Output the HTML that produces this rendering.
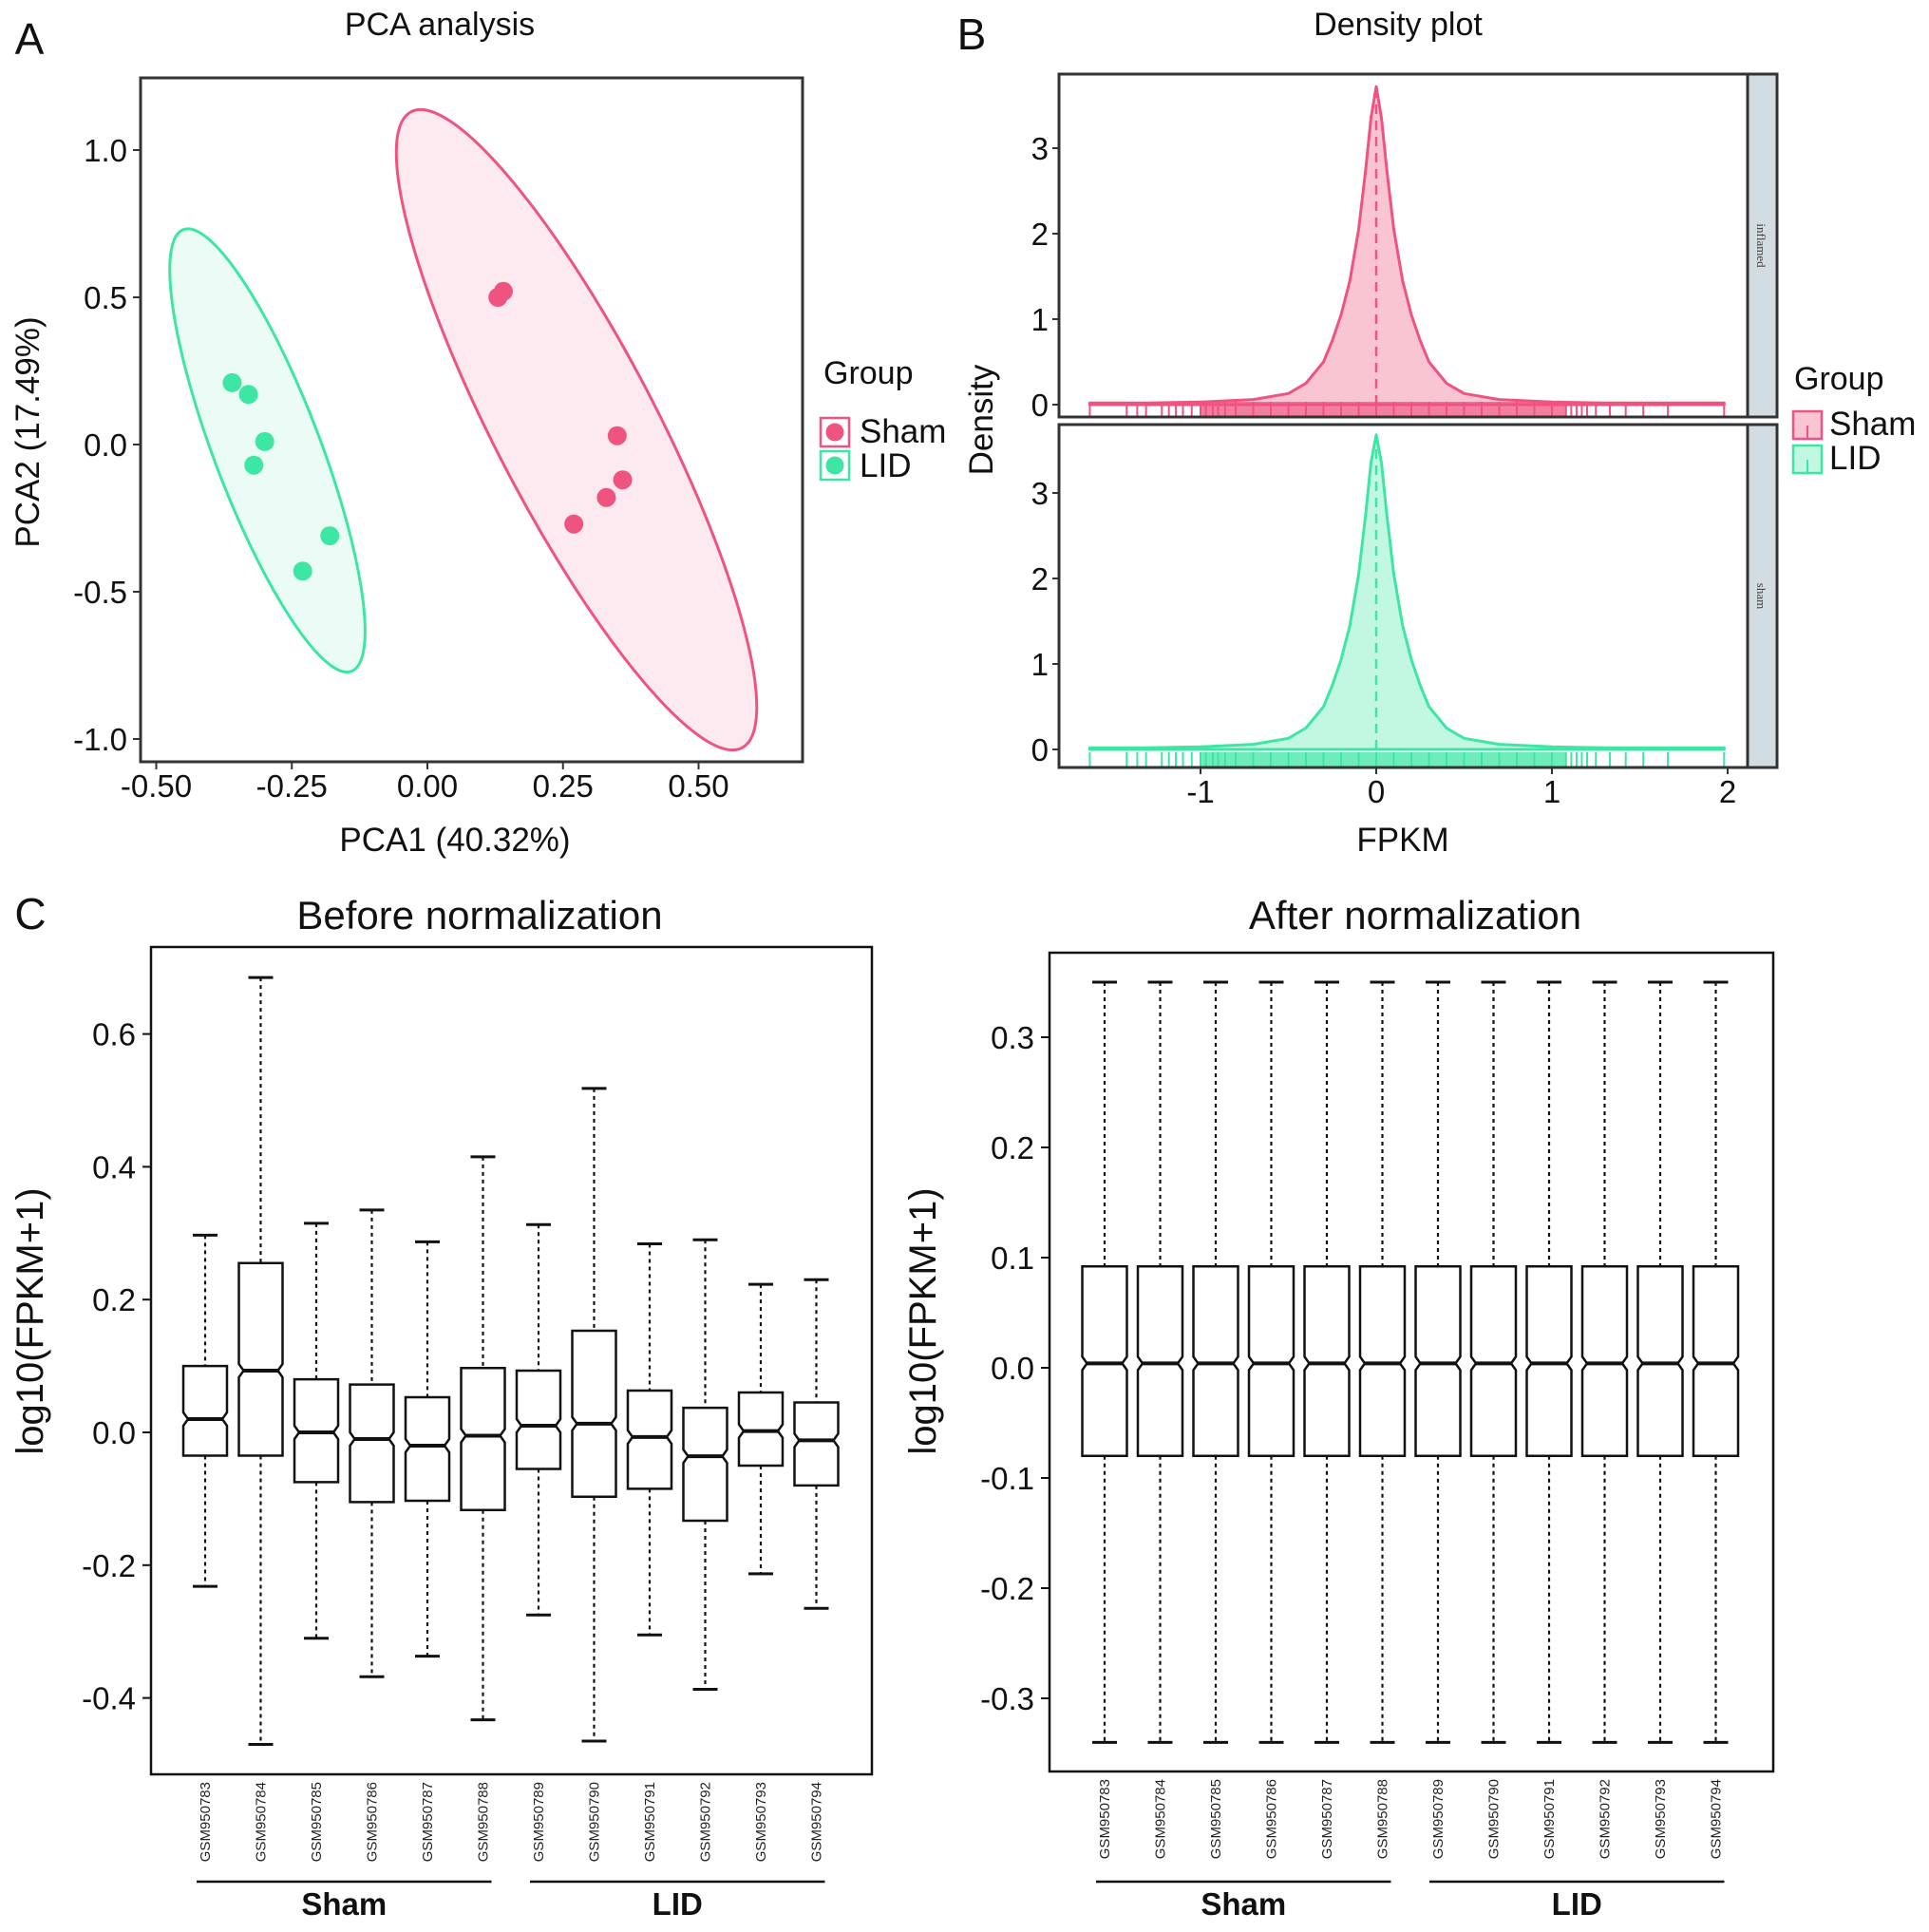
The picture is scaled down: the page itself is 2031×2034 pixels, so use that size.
<!DOCTYPE html>
<html><head><meta charset="utf-8">
<style>
html,body{margin:0;padding:0;background:#fff;}
svg{display:block;font-family:"Liberation Sans",Arial,sans-serif;}
</style></head>
<body>
<svg id="fig" width="2031" height="2034" viewBox="0 0 2031 2034" xmlns="http://www.w3.org/2000/svg"></svg>
<script>
// ---------- Panel A data ----------
const pcaShamX = [0.13, 0.14, 0.35, 0.36, 0.33, 0.27];
const pcaShamY = [0.50, 0.52, 0.03, -0.12, -0.18, -0.27];
const pcaLidX = [-0.36, -0.33, -0.30, -0.32, -0.18, -0.23];
const pcaLidY = [0.21, 0.17, 0.01, -0.07, -0.31, -0.43];
const pcaXTicks = [-0.5, -0.25, 0, 0.25, 0.5];
const pcaXTickLabels = ["-0.50", "-0.25", "0.00", "0.25", "0.50"];
const pcaYTicks = [1.0, 0.5, 0.0, -0.5, -1.0];
const pcaYTickLabels = ["1.0", "0.5", "0.0", "-0.5", "-1.0"];
const ellSham = [-0.03, 1.13, 0.58, -1.03];
const ellLid = [-0.45, 0.73, -0.14, -0.77];
// ---------- Panel B data ----------
const densX = [-1.63, -1.3, -1.0, -0.7, -0.5, -0.4, -0.3, -0.25, -0.2, -0.15, -0.1, -0.06, -0.03, 0, 0.03, 0.06, 0.1, 0.15, 0.2, 0.25, 0.3, 0.4, 0.5, 0.7, 1.0, 1.3, 1.65, 1.98];
const densSham = [0.02, 0.02, 0.03, 0.06, 0.13, 0.25, 0.5, 0.75, 1.05, 1.45, 2.05, 2.75, 3.35, 3.72, 3.35, 2.75, 2.05, 1.45, 1.05, 0.75, 0.5, 0.25, 0.13, 0.06, 0.03, 0.02, 0.02, 0.02];
const densLid = [0.02, 0.02, 0.03, 0.06, 0.13, 0.25, 0.5, 0.75, 1.05, 1.45, 2.05, 2.75, 3.35, 3.68, 3.35, 2.75, 2.05, 1.45, 1.05, 0.75, 0.5, 0.25, 0.13, 0.06, 0.03, 0.02, 0.02, 0.02];
const rugX = [-1.63,-1.42,-1.36,-1.31,-1.22,-1.18,-1.14,-1.1,-1.05,-1.0,-0.97,-0.93,-0.9,-0.86,-0.8,-0.7,-0.6,-0.5,-0.4,-0.3,-0.2,-0.1,0,0.1,0.2,0.3,0.4,0.5,0.6,0.7,0.8,0.9,1.0,1.08,1.11,1.14,1.17,1.2,1.25,1.33,1.42,1.52,1.66,1.98];
const densXTicks = [-1, 0, 1, 2];
const densYTicks = [0, 1, 2, 3];
// ---------- Panel C data ----------
const samples = ["GSM950783","GSM950784","GSM950785","GSM950786","GSM950787","GSM950788","GSM950789","GSM950790","GSM950791","GSM950792","GSM950793","GSM950794"];
const beforeHi = [0.297, 0.685, 0.315, 0.335, 0.287, 0.415, 0.313, 0.518, 0.284, 0.29, 0.223, 0.23];
const beforeQ3 = [0.10, 0.255, 0.08, 0.072, 0.053, 0.097, 0.093, 0.153, 0.063, 0.037, 0.06, 0.045];
const beforeMed = [0.02, 0.093, 0.0, -0.01, -0.02, -0.005, 0.01, 0.013, -0.007, -0.036, 0.002, -0.012];
const beforeQ1 = [-0.035, -0.035, -0.075, -0.105, -0.103, -0.117, -0.055, -0.097, -0.085, -0.133, -0.05, -0.08];
const beforeLo = [-0.232, -0.47, -0.31, -0.368, -0.337, -0.433, -0.275, -0.465, -0.305, -0.387, -0.213, -0.265];
const afterHi = [0.35,0.35,0.35,0.35,0.35,0.35,0.35,0.35,0.35,0.35,0.35,0.35];
const afterQ3 = [0.092,0.092,0.092,0.092,0.092,0.092,0.092,0.092,0.092,0.092,0.092,0.092];
const afterMed = [0.004,0.004,0.004,0.004,0.004,0.004,0.004,0.004,0.004,0.004,0.004,0.004];
const afterQ1 = [-0.08,-0.08,-0.08,-0.08,-0.08,-0.08,-0.08,-0.08,-0.08,-0.08,-0.08,-0.08];
const afterLo = [-0.34,-0.34,-0.34,-0.34,-0.34,-0.34,-0.34,-0.34,-0.34,-0.34,-0.34,-0.34];
const beforeYTicks = [0.6, 0.4, 0.2, 0.0, -0.2, -0.4];
const beforeYTickLabels = ["0.6", "0.4", "0.2", "0.0", "-0.2", "-0.4"];
const afterYTicks = [0.3, 0.2, 0.1, 0.0, -0.1, -0.2, -0.3];
const afterYTickLabels = ["0.3", "0.2", "0.1", "0.0", "-0.1", "-0.2", "-0.3"];

const NS = "http://www.w3.org/2000/svg";
const svg = document.getElementById("fig");
function el(tag, attrs, parent, txt) {
  const e = document.createElementNS(NS, tag);
  for (const k in attrs) e.setAttribute(k, attrs[k]);
  if (txt !== undefined) e.textContent = txt;
  (parent || svg).appendChild(e);
  return e;
}
function label(x, y, size, anchor, str, name, parent, extra) {
  const a = {x: x, y: y, "font-size": size, "text-anchor": anchor, fill: "#111"};
  if (extra) for (const k in extra) a[k] = extra[k];
  const t = el("text", a, parent, str);
  
  
  return t;
}
const PINK = "#EF5380", GREEN = "#3EE6A4";

// ========== Panel A ==========
const gA = el("g", {});


const ax = v => 450 + v * 571;
const ay = v => 468 - v * 310;
label(31, 57, 46, "middle", "A", "panel-label-a", gA);
label(463, 37, 34, "middle", "PCA analysis", "pca-title", gA);
function drawEllipse(e, col, fill, name) {
  const x1 = ax(e[0]), y1 = ay(e[1]), x2 = ax(e[2]), y2 = ay(e[3]);
  const cx = (x1 + x2) / 2, cy = (y1 + y2) / 2;
  const len = Math.hypot(x2 - x1, y2 - y1) / 2;
  const ang = Math.atan2(y2 - y1, x2 - x1) * 180 / Math.PI;
  const minor = len * 0.225;
  const p = el("ellipse", {cx: cx, cy: cy, rx: len, ry: minor, transform: "rotate(" + ang + " " + cx + " " + cy + ")", fill: fill, stroke: col, "stroke-width": 3}, gA);
  
  
}
drawEllipse(ellSham, PINK, "rgba(239,83,128,0.12)", "sham-ellipse");
drawEllipse(ellLid, GREEN, "rgba(62,230,164,0.10)", "lid-ellipse");
pcaShamX.forEach((v, i) => {
  const c = el("circle", {cx: ax(v), cy: ay(pcaShamY[i]), r: 10, fill: PINK}, gA);
  
  
});
pcaLidX.forEach((v, i) => {
  const c = el("circle", {cx: ax(v), cy: ay(pcaLidY[i]), r: 10, fill: GREEN}, gA);
  
  
});
const frA = el("rect", {x: 148, y: 82, width: 697, height: 720, fill: "none", stroke: "#333", "stroke-width": 3}, gA);


pcaXTicks.forEach((v, i) => {
  el("line", {x1: ax(v), x2: ax(v), y1: 802, y2: 810, stroke: "#333", "stroke-width": 2}, gA);
  label(ax(v), 839, 33, "middle", pcaXTickLabels[i], "pca-x-tick-label", gA);
});
pcaYTicks.forEach((v, i) => {
  el("line", {x1: 140, x2: 148, y1: ay(v), y2: ay(v), stroke: "#333", "stroke-width": 2}, gA);
  label(134, ay(v) + 12, 33, "end", pcaYTickLabels[i], "pca-y-tick-label", gA);
});
label(479, 896, 35, "middle", "PCA1 (40.32%)", "pca-x-axis-title", gA);
label(0, 0, 35, "middle", "PCA2 (17.49%)", "pca-y-axis-title", gA, {transform: "translate(41,455) rotate(-90)"});
label(867, 404, 34, "start", "Group", "pca-legend-title", gA);
[["Sham", PINK, 440, 466], ["LID", GREEN, 475, 502]].forEach(d => {
  const r = el("rect", {x: 864, y: d[2], width: 30, height: 30, fill: "#fff", stroke: d[1], "stroke-width": 2.5}, gA);
  
  
  el("circle", {cx: 879, cy: d[2] + 15, r: 9.5, fill: d[1]}, gA);
  label(905, d[3], 35, "start", d[0], "pca-legend-label", gA);
});

// ========== Panel B ==========
const gB = el("g", {});


label(1023, 52, 46, "middle", "B", "panel-label-b", gB);
label(1472, 37, 34, "middle", "Density plot", "density-title", gB);
const bx = v => 1449 + v * 185;
const facets = [
  {top: 78, bot: 439, y: v => 426 - v * 90, vals: densSham, col: PINK, fill: "rgba(245,150,175,0.55)", strip: "inflamed", name: "sham"},
  {top: 447, bot: 808, y: v => 789 - v * 90, vals: densLid, col: GREEN, fill: "rgba(120,240,190,0.45)", strip: "sham", name: "lid"}
];
facets.forEach(f => {
  let d = "M" + bx(densX[0]) + "," + f.y(0);
  densX.forEach((x, i) => { d += " L" + bx(x) + "," + f.y(f.vals[i]); });
  d += " L" + bx(densX[densX.length - 1]) + "," + f.y(0) + " Z";
  const p = el("path", {d: d, fill: f.fill, stroke: f.col, "stroke-width": 3, "stroke-linejoin": "round"}, gB);
  
  
  const peak = Math.max.apply(null, f.vals);
  const m = el("line", {x1: bx(0), x2: bx(0), y1: f.y(0), y2: f.y(peak), stroke: f.col, "stroke-width": 2.5, "stroke-dasharray": "10,7"}, gB);
  
  
  rugX.forEach(x => {
    const r = el("line", {x1: bx(x), x2: bx(x), y1: f.bot - 16, y2: f.bot, stroke: f.col, "stroke-width": 2}, gB);
    
    
  });
  el("rect", {x: bx(-1.0), y: f.bot - 16, width: bx(1.08) - bx(-1.0), height: 16, fill: f.col, opacity: 0.75}, gB);
  const st = el("rect", {x: 1840, y: f.top, width: 31, height: f.bot - f.top, fill: "#D3DCE0"}, gB);
  
  
  el("line", {x1: 1840, x2: 1840, y1: f.top, y2: f.bot, stroke: "#333", "stroke-width": 3}, gB);
  const cy = (f.top + f.bot) / 2;
  label(0, 0, 13, "middle", f.strip, "facet-strip-label", gB, {transform: "translate(1850," + cy + ") rotate(90)", "font-family": "Liberation Serif, serif", fill: "#444"});
  const fr = el("rect", {x: 1115, y: f.top, width: 756, height: f.bot - f.top, fill: "none", stroke: "#333", "stroke-width": 3}, gB);
  
  
  densYTicks.forEach(v => {
    el("line", {x1: 1108, x2: 1115, y1: f.y(v), y2: f.y(v), stroke: "#333", "stroke-width": 2}, gB);
    label(1104, f.y(v) + 12, 33, "end", String(v), "density-y-tick-label", gB);
  });
});
densXTicks.forEach(v => {
  el("line", {x1: bx(v), x2: bx(v), y1: 808, y2: 815, stroke: "#333", "stroke-width": 2}, gB);
  label(bx(v), 845, 33, "middle", String(v), "density-x-tick-label", gB);
});
label(1477, 896, 35, "middle", "FPKM", "density-x-axis-title", gB);
label(0, 0, 35, "middle", "Density", "density-y-axis-title", gB, {transform: "translate(1045,442) rotate(-90)"});
label(1889, 410, 34, "start", "Group", "density-legend-title", gB);
[["Sham", PINK, "rgba(245,150,175,0.55)", 433, 458], ["LID", GREEN, "rgba(120,240,190,0.45)", 469, 494]].forEach(d => {
  const r = el("rect", {x: 1888, y: d[3], width: 30, height: 29, fill: d[2], stroke: d[1], "stroke-width": 2.5}, gB);
  
  
  el("line", {x1: 1903, x2: 1903, y1: d[3] + 15, y2: d[3] + 29, stroke: d[1], "stroke-width": 2}, gB);
  label(1926, d[4], 35, "start", d[0], "density-legend-label", gB);
});

// ========== Panel C ==========
function boxPanel(cfg) {
  const g = el("g", {});
  
  
  const y = v => cfg.zero - v * cfg.scale;
  label(cfg.titleX, 978, 42, "middle", cfg.title, cfg.name + "-title", g);
  samples.forEach((s, i) => {
    const cx = cfg.x0 + i * cfg.step, hw = cfg.w / 2, L = cx - hw, R = cx + hw;
    const yq3 = y(cfg.q3[i]), yq1 = y(cfg.q1[i]), ym = y(cfg.med[i]), n = 7, ins = 5;
    const w1 = el("line", {x1: cx, x2: cx, y1: y(cfg.hi[i]), y2: yq3, stroke: "#111", "stroke-width": 2.2, "stroke-dasharray": "4,4"}, g);
    
    
    const w2 = el("line", {x1: cx, x2: cx, y1: yq1, y2: y(cfg.lo[i]), stroke: "#111", "stroke-width": 2.2, "stroke-dasharray": "4,4"}, g);
    
    
    const c1 = el("line", {x1: cx - 13, x2: cx + 13, y1: y(cfg.hi[i]), y2: y(cfg.hi[i]), stroke: "#111", "stroke-width": 3}, g);
    
    
    const c2 = el("line", {x1: cx - 13, x2: cx + 13, y1: y(cfg.lo[i]), y2: y(cfg.lo[i]), stroke: "#111", "stroke-width": 3}, g);
    
    
    const pts = [[L, yq3], [R, yq3], [R, ym - n], [R - ins, ym], [R, ym + n], [R, yq1], [L, yq1], [L, ym + n], [L + ins, ym], [L, ym - n]];
    const b = el("polygon", {points: pts.map(p => p.join(",")).join(" "), fill: "#fff", stroke: "#111", "stroke-width": 2.5}, g);
    
    
    const md = el("line", {x1: L + ins, x2: R - ins, y1: ym, y2: ym, stroke: "#111", "stroke-width": 4}, g);
    
    
    label(0, 0, 15, "end", s, "sample-label", g, {transform: "translate(" + (cx + 5) + "," + (cfg.bot + 8) + ") rotate(-90)", fill: "#222"});
  });
  const fr = el("rect", {x: cfg.left, y: cfg.top, width: cfg.right - cfg.left, height: cfg.bot - cfg.top, fill: "none", stroke: "#111", "stroke-width": 2.5}, g);
  
  
  cfg.ticks.forEach((v, i) => {
    el("line", {x1: cfg.left - 9, x2: cfg.left, y1: y(v), y2: y(v), stroke: "#111", "stroke-width": 2}, g);
    label(cfg.left - 16, y(v) + 12, 33, "end", cfg.tickLabels[i], "y-tick-label", g);
  });
  label(0, 0, 40, "middle", "log10(FPKM+1)", "y-axis-title", g, {transform: "translate(" + cfg.ylabX + ",1391) rotate(-90)"});
  [["Sham", 0, 5], ["LID", 6, 11]].forEach(d => {
    const x1 = cfg.x0 + d[1] * cfg.step - 9, x2 = cfg.x0 + d[2] * cfg.step + 9;
    const ln = el("line", {x1: x1, x2: x2, y1: cfg.lineY, y2: cfg.lineY, stroke: "#111", "stroke-width": 2.5}, g);
    
    
    label((x1 + x2) / 2, cfg.lineY + 35, 33, "middle", d[0], "group-label", g, {"font-weight": "bold"});
  });
}
label(32, 978, 46, "middle", "C", "panel-label-c", svg);
boxPanel({name: "before-normalization", title: "Before normalization", titleX: 505,
  left: 159, right: 918, top: 997, bot: 1868, zero: 1508, scale: 699,
  x0: 216, step: 58.5, w: 46, hi: beforeHi, q3: beforeQ3, med: beforeMed, q1: beforeQ1, lo: beforeLo,
  ticks: beforeYTicks, tickLabels: beforeYTickLabels, ylabX: 45, lineY: 1981});
boxPanel({name: "after-normalization", title: "After normalization", titleX: 1490,
  left: 1105, right: 1867, top: 1003, bot: 1865, zero: 1440, scale: 1160,
  x0: 1163, step: 58.5, w: 47, hi: afterHi, q3: afterQ3, med: afterMed, q1: afterQ1, lo: afterLo,
  ticks: afterYTicks, tickLabels: afterYTickLabels, ylabX: 985, lineY: 1981});
</script>
</body></html>
